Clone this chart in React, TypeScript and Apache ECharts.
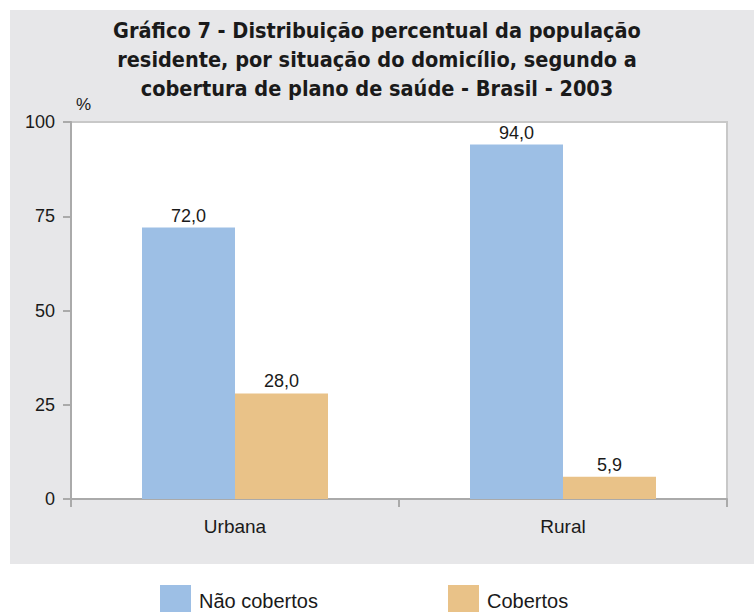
import React, { useEffect, useRef } from "react";
import * as echarts from "echarts";

const titleLines = [
  "Gráfico 7 - Distribuição percentual da população",
  "residente, por situação do domicílio, segundo a",
  "cobertura de plano de saúde - Brasil - 2003",
];
const categories = ["Urbana", "Rural"];
const naoCobertos = [72.0, 94.0];
const cobertos = [28.0, 5.9];
const yTicks = [0, 25, 50, 75, 100];
const seriesNames = ["Não cobertos", "Cobertos"];
const colors = ["#9dbfe5", "#e9c288"];

const REG = "'Liberation Sans', Arial, Helvetica, sans-serif";
const NARROW = "'Liberation Sans Narrow', 'DejaVu Sans Condensed', 'Liberation Sans', sans-serif";

const fmt = (v: number) => v.toFixed(1).replace(".", ",");

export default function App() {
  const ref = useRef<HTMLDivElement>(null);
  useEffect(() => {
    if (!ref.current) return;
    const chart = echarts.init(ref.current, undefined, { renderer: "svg" });
    const legendBase = {
      orient: "horizontal",
      top: 585,
      padding: 0,
      itemWidth: 31,
      itemHeight: 31,
      icon: "rect",
      textStyle: { fontSize: 20, color: "#1a1a1a", fontFamily: REG, padding: [0, 0, 0, 3] },
    };
    chart.setOption({
      animation: false,
      backgroundColor: "#ffffff",
      title: {
        text: titleLines.join("\n"),
        left: "center",
        top: 16,
        padding: [0, 0, 0, 10],
        textStyle: {
          fontFamily: NARROW,
          fontWeight: "bold",
          fontSize: 21.5,
          lineHeight: 29,
          color: "#1a1a1a",
        },
      },
      graphic: [
        {
          type: "rect",
          z: -1,
          shape: { x: 10, y: 10, width: 744, height: 554 },
          style: { fill: "#e7e7e9" },
          silent: true,
        },
        {
          type: "text",
          x: 76,
          y: 96,
          style: { text: "%", fontSize: 17, fontFamily: REG, fill: "#1a1a1a" },
        },
      ],
      legend: [
        { ...legendBase, left: 160, data: [seriesNames[0]] },
        { ...legendBase, left: 448, data: [seriesNames[1]] },
      ],
      grid: {
        left: 71,
        right: 27,
        top: 122,
        bottom: 113,
        show: true,
        backgroundColor: "#ffffff",
        borderColor: "#c8c8c8",
        borderWidth: 2,
      },
      xAxis: {
        type: "category",
        data: categories,
        axisLine: { lineStyle: { color: "#aaaaaa", width: 2 } },
        axisTick: { show: true, length: 8, lineStyle: { color: "#aaaaaa", width: 2 } },
        axisLabel: { fontSize: 19, fontFamily: REG, color: "#1a1a1a", margin: 18 },
      },
      yAxis: {
        type: "value",
        min: yTicks[0],
        max: yTicks[yTicks.length - 1],
        interval: 25,
        axisLine: { show: true, lineStyle: { color: "#aaaaaa", width: 2 } },
        axisTick: { show: true, length: 8, lineStyle: { color: "#aaaaaa", width: 2 } },
        splitLine: { show: false },
        axisLabel: { fontSize: 18, fontFamily: REG, color: "#1a1a1a", margin: 16 },
      },
      series: [
        {
          name: seriesNames[0],
          type: "bar",
          data: naoCobertos,
          barWidth: 93,
          barGap: "0%",
          itemStyle: { color: colors[0] },
          label: {
            show: true,
            position: "top",
            distance: 3,
            fontSize: 18,
            fontFamily: REG,
            color: "#1a1a1a",
            formatter: (p: any) => fmt(p.value),
          },
        },
        {
          name: seriesNames[1],
          type: "bar",
          data: cobertos,
          barWidth: 93,
          barGap: "0%",
          itemStyle: { color: colors[1] },
          label: {
            show: true,
            position: "top",
            distance: 3,
            fontSize: 18,
            fontFamily: REG,
            color: "#1a1a1a",
            formatter: (p: any) => fmt(p.value),
          },
        },
      ],
    });
    return () => chart.dispose();
  }, []);
  return (
    <div
      ref={ref}
      style={{ position: "fixed", left: 0, top: 0, width: 754, height: 612 }}
    />
  );
}
